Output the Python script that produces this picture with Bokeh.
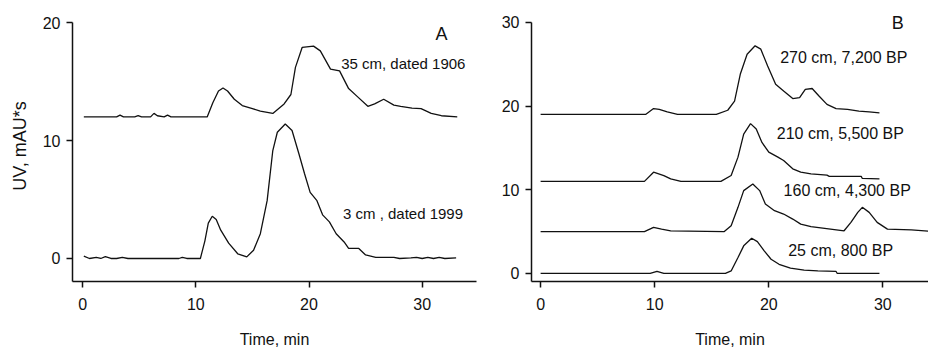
from bokeh.plotting import figure
from bokeh.layouts import row
from bokeh.models import FixedTicker, Label, Range1d
from bokeh.embed import file_html
from bokeh.resources import INLINE

# ---- Panel A: surface vs. 1906 sediment (time in min, UV in mAU*s) ----
a_top_t = [0.1, 3.0, 3.3, 3.6, 4.6, 4.9, 5.2, 6.0, 6.3, 6.6, 7.2, 7.5, 7.8, 11.0, 11.5,
           12.0, 12.4, 12.8, 13.4, 14.1, 15.0, 15.7, 16.8, 17.8, 18.4, 18.8, 19.4, 20.4,
           21.0, 21.9, 22.7, 23.5, 24.3, 25.2, 25.8, 26.6, 27.5, 28.1, 29.1, 29.9, 30.8,
           31.7, 33.1]
a_top_v = [12.0, 12.0, 12.15, 12.0, 12.0, 12.1, 12.0, 12.0, 12.3, 12.1, 12.0, 12.15, 12.0,
           12.0, 13.2, 14.2, 14.45, 14.2, 13.5, 12.96, 12.7, 12.5, 12.3, 13.1, 13.9, 16.2,
           17.9, 18.0, 17.6, 16.05, 15.9, 14.4, 13.7, 12.9, 13.1, 13.5, 13.0, 12.9, 12.75,
           12.7, 12.3, 12.1, 12.0]

a_bot_t = [0.1, 0.6, 1.2, 1.6, 2.0, 2.5, 3.0, 3.5, 4.0, 8.5, 8.8, 9.2, 10.4, 10.8, 11.1,
           11.45, 11.8, 12.2, 12.9, 13.7, 14.5, 15.1, 15.7, 16.3, 16.8, 17.2, 17.9, 18.5,
           19.1, 19.6, 20.1, 20.7, 21.2, 21.8, 22.4, 23.1, 23.5, 24.4, 25.0, 25.9, 27.5,
           28.0, 29.0, 29.5, 30.0, 30.5, 31.0, 31.5, 32.0, 33.0]
a_bot_v = [0.2, 0.0, 0.1, 0.0, 0.15, 0.0, 0.0, 0.1, 0.0, 0.0, 0.1, 0.0, 0.0, 1.5, 3.0,
           3.58, 3.3, 2.4, 1.3, 0.4, 0.14, 0.7, 2.1, 4.9, 9.15, 10.7, 11.4, 10.85, 8.9,
           7.2, 5.6, 4.9, 3.7, 3.1, 2.1, 1.4, 0.85, 0.85, 0.3, 0.1, 0.1, 0.0, 0.05, 0.1,
           0.0, 0.1, 0.0, 0.1, 0.0, 0.05]

# ---- Panel B: core depths, offset chromatograms ----
b_270_t = [0, 9.2, 9.9, 10.4, 11.1, 12.0, 15.4, 16.4, 17.0, 17.5, 18.1, 18.8, 19.3, 19.9,
           20.6, 21.3, 22.1, 22.7, 23.2, 23.8, 24.4, 25.1, 25.9, 26.9, 27.9, 28.8, 29.7]
b_270_v = [19.0, 19.0, 19.7, 19.6, 19.3, 19.0, 19.0, 19.5, 20.6, 23.8, 26.2, 27.2, 26.8,
           24.8, 22.6, 21.8, 20.9, 21.0, 22.0, 22.1, 21.2, 20.2, 19.7, 19.6, 19.4, 19.3, 19.2]

b_210_t = [0, 9.1, 9.9, 10.8, 11.4, 12.3, 15.8, 16.7, 17.3, 17.8, 18.4, 18.9, 19.4, 20.0,
           20.8, 21.3, 22.1, 22.8, 23.7, 25.1, 25.3, 28.1, 28.2, 29.7]
b_210_v = [11.0, 11.0, 12.1, 11.7, 11.3, 11.0, 11.0, 11.7, 13.9, 16.65, 17.9, 17.25, 15.65,
           14.5, 13.9, 13.5, 12.5, 12.1, 11.9, 11.75, 11.6, 11.6, 11.35, 11.3]

b_160_t = [0, 9.1, 9.9, 10.6, 11.4, 16.1, 16.7, 17.3, 17.8, 18.6, 19.2, 19.7, 20.5, 21.3,
           22.1, 22.8, 23.7, 24.9, 26.6, 27.2, 27.8, 28.2, 28.8, 29.5, 30.4, 32.5, 34.0]
b_160_v = [5.0, 5.0, 5.5, 5.3, 5.1, 5.0, 5.7, 7.9, 9.9, 10.7, 9.9, 8.3, 7.5, 7.1, 6.5,
           5.9, 5.6, 5.4, 5.1, 6.1, 7.3, 7.9, 7.3, 6.1, 5.3, 5.2, 5.05]

b_25_t = [0, 9.6, 10.2, 10.8, 16.2, 16.7, 17.3, 17.8, 18.5, 19.0, 19.6, 20.2, 20.9, 21.9,
          23.1, 24.3, 25.9, 26.0, 29.7]
b_25_v = [0.0, 0.0, 0.25, 0.0, 0.0, 0.3, 1.9, 3.3, 4.2, 3.8, 2.7, 1.7, 1.1, 0.64, 0.4,
          0.3, 0.24, 0.0, 0.0]

x_ticks = [0, 10, 20, 30]
a_y_ticks = [0, 10, 20]
b_y_ticks = [0, 10, 20, 30]

FONT = "Liberation Sans"
INK = "#111111"


def style(p, xt, yt):
    p.outline_line_color = None
    p.xgrid.visible = False
    p.ygrid.visible = False
    p.background_fill_color = "white"
    p.border_fill_color = "white"
    p.xaxis.ticker = FixedTicker(ticks=xt)
    p.yaxis.ticker = FixedTicker(ticks=yt)
    for ax in (p.xaxis, p.yaxis):
        ax.axis_line_color = INK
        ax.axis_line_width = 1.5
        ax.major_tick_line_color = INK
        ax.major_tick_line_width = 1.5
        ax.major_tick_in = 0
        ax.major_tick_out = 6
        ax.minor_tick_line_color = None
        ax.major_label_text_font = FONT
        ax.major_label_text_font_size = "16px"
        ax.major_label_text_color = INK
        ax.axis_label_text_font = FONT
        ax.axis_label_text_font_style = "normal"
        ax.axis_label_text_color = INK
    p.xaxis.major_label_standoff = 10
    p.yaxis.major_label_standoff = 6
    p.xaxis.axis_label = "Time, min"
    p.xaxis.axis_label_text_font_size = "16px"
    p.xaxis.axis_label_standoff = 18


def note(p, x, y, txt, size, align="left"):
    p.add_layout(Label(x=x, y=y, text=txt, text_font=FONT, text_font_size=size,
                       text_color=INK, text_align=align, text_baseline="middle"))


# Both frames reach a little above their top tick so the panel tags have room;
# the y-axis lines stop at the top tick.
pa = figure(width=478, height=352, output_backend="svg", toolbar_location=None,
            x_range=Range1d(-0.9, 34.8), y_range=Range1d(-1.95, 21.02),
            min_border_left=72, min_border_right=2, min_border_top=10,
            min_border_bottom=71)
style(pa, x_ticks, a_y_ticks)
pa.yaxis.bounds = (-1.95, 20)
pa.yaxis.axis_label = "UV, mAU*s"
pa.yaxis.axis_label_text_font_size = "18px"
pa.yaxis.axis_label_standoff = 10
pa.line(a_top_t, a_top_v, line_color=INK, line_width=1.3)
pa.line(a_bot_t, a_bot_v, line_color=INK, line_width=1.3)
note(pa, 31.7, 19.07, "A", "18px", "center")
note(pa, 22.84, 16.5, "35 cm, dated 1906", "15px")
note(pa, 23.0, 3.8, "3 cm , dated 1999", "15px")

pb = figure(width=450, height=352, output_backend="svg", toolbar_location=None,
            x_range=Range1d(-0.8, 34.0), y_range=Range1d(-0.96, 31.42),
            min_border_left=53, min_border_right=0, min_border_top=10,
            min_border_bottom=71)
style(pb, x_ticks, b_y_ticks)
pb.yaxis.bounds = (-0.96, 30)
for t, v in ((b_270_t, b_270_v), (b_210_t, b_210_v), (b_160_t, b_160_v), (b_25_t, b_25_v)):
    pb.line(t, v, line_color=INK, line_width=1.3)
note(pb, 31.3, 29.9, "B", "18px", "center")
note(pb, 21.0, 25.8, "270 cm, 7,200 BP", "16px")
note(pb, 20.7, 16.7, "210 cm, 5,500 BP", "16px")
note(pb, 21.3, 9.9, "160 cm, 4,300 BP", "16px")
note(pb, 21.7, 2.75, "25 cm, 800 BP", "16px")

layout = row(pa, pb)
open("out.html", "w").write(file_html(layout, INLINE))
